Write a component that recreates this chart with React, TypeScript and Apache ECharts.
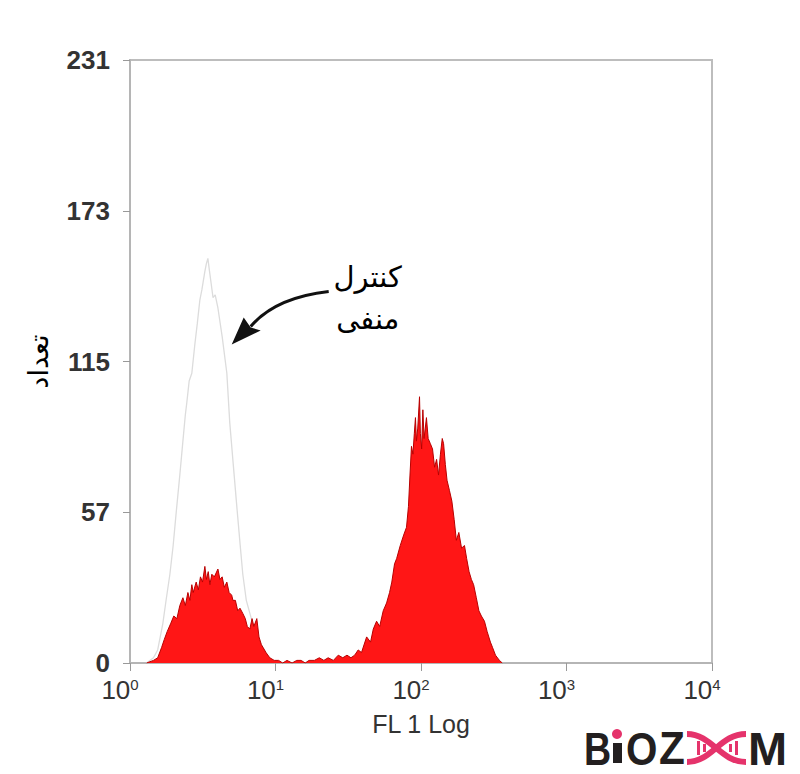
import React, { useEffect, useRef } from "react";
import * as echarts from "echarts";

// FL1 value (log axis) and event count
const RED_HIST: [number, number][] = [
  [1.3, 0], [1.45, 1], [1.55, 2], [1.65, 6], [1.72, 9], [1.8, 12], [1.9, 15], [2.0, 18],
  [2.1, 17], [2.2, 22], [2.31, 25], [2.4, 22], [2.5, 27], [2.58, 24], [2.66, 30], [2.72, 27],
  [2.85, 31], [2.95, 28], [3.05, 33], [3.15, 31], [3.27, 37], [3.35, 32], [3.45, 35], [3.54, 30],
  [3.65, 34], [3.8, 33], [4.02, 36], [4.15, 32], [4.3, 33], [4.45, 29], [4.63, 31], [4.8, 27],
  [5.0, 26], [5.1, 24], [5.3, 24], [5.5, 20], [5.7, 21], [5.96, 19], [6.2, 17], [6.4, 14],
  [6.66, 13], [6.9, 17], [7.1, 14], [7.44, 17], [7.7, 10], [8.0, 7], [8.2, 6], [8.6, 4],
  [9.14, 2], [9.8, 1], [10.5, 1], [11.2, 0], [12, 1], [13, 0], [14, 1], [15, 1], [16, 0],
  [17, 1], [18.5, 1], [20, 2], [21.5, 1], [23, 2], [25, 1], [27, 3], [29, 2], [31, 3], [33, 2],
  [35, 3], [37, 5], [39, 4], [42.3, 10], [45, 8], [47, 13], [49.5, 16], [52, 14], [55, 20],
  [58, 23], [60.8, 27], [63, 31], [65.8, 38], [68, 40], [72, 45], [76, 49], [79.5, 52], [82, 60],
  [84, 72], [86, 83], [88, 80], [90, 88], [91.6, 94], [93, 85], [95, 90], [97.7, 102], [99, 88],
  [101, 82], [103, 97], [105, 86], [107, 90], [109, 94], [112, 86], [116, 84], [120, 82],
  [124, 75], [128, 78], [132, 72], [136, 80], [140, 86], [143, 84], [147, 76], [151, 70],
  [157, 66], [163, 62], [169, 55], [175, 47], [182, 50], [190, 44], [199, 45], [206, 40],
  [214, 35], [222, 32], [230, 30], [240, 25], [250, 20], [260, 18], [273, 16], [285, 12],
  [300, 8], [310, 6], [325, 3], [346, 1], [362, 0],
];

const CONTROL_HIST: [number, number][] = [
  [1.3, 0], [1.45, 2], [1.55, 5], [1.68, 15], [1.78, 25], [1.88, 34], [1.98, 45], [2.08, 58],
  [2.2, 72], [2.31, 85], [2.4, 95], [2.46, 100], [2.55, 108], [2.66, 111], [2.79, 122],
  [2.9, 130], [3.02, 139], [3.12, 143], [3.27, 150], [3.35, 153], [3.43, 155], [3.52, 150],
  [3.62, 145], [3.72, 140], [3.85, 141], [4.02, 136], [4.3, 125], [4.63, 111], [4.85, 92],
  [5.09, 78], [5.42, 60], [5.7, 46], [5.96, 34], [6.3, 24], [6.98, 15], [7.8, 8], [8.6, 4],
  [9.14, 1], [10, 0],
];

const X_MIN = 1;
const X_MAX = 10000;
const Y_MAX = 231;
const Y_INTERVAL = 57.75;

const X_TITLE = "FL 1 Log";
const Y_TITLE = "تعداد";
const NOTE_LINES = ["کنترل", "منفی"];
const NOTE_TIP: [number, number] = [5.0, 122];

export default function App() {
  const ref = useRef<HTMLDivElement>(null);
  useEffect(() => {
    if (!ref.current) return;
    const chart = echarts.init(ref.current, undefined, { renderer: "svg" });
    const option: any = {
      animation: false,
      backgroundColor: "#ffffff",
      grid: {
        left: 130, right: 88, top: 60, bottom: 111,
        show: true, borderColor: "#bdbdbd", borderWidth: 2, backgroundColor: "transparent",
      },
      xAxis: {
        type: "log", logBase: 10, min: X_MIN, max: X_MAX,
        name: X_TITLE, nameLocation: "middle", nameGap: 48,
        nameTextStyle: { fontFamily: "Liberation Sans", fontSize: 25, color: "#333" },
        axisLine: { show: true, lineStyle: { color: "#b5b5b5", width: 2 } },
        axisTick: { show: true, length: 8, lineStyle: { color: "#999", width: 1 } },
        minorTick: { show: false },
        splitLine: { show: false },
        axisLabel: {
          margin: 14,
          padding: [0, 20, 0, 0],
          formatter: (v: number) => "10{s|" + Math.round(Math.log10(v)) + "}",
          fontFamily: "Liberation Sans", fontSize: 26, color: "#333",
          rich: {
            s: { fontFamily: "Liberation Sans", fontSize: 15, color: "#333", verticalAlign: "top", lineHeight: 26 },
          },
        },
      },
      yAxis: {
        type: "value", min: 0, max: Y_MAX, interval: Y_INTERVAL,
        name: Y_TITLE, nameLocation: "middle", nameGap: 78, nameRotate: 90,
        nameTextStyle: { fontFamily: "DejaVu Sans", fontSize: 27, color: "#000" },
        axisLine: { show: true, lineStyle: { color: "#b5b5b5", width: 2 } },
        axisTick: { show: true, length: 7, lineStyle: { color: "#999", width: 1 } },
        splitLine: { show: false },
        axisLabel: {
          margin: 20,
          formatter: (v: number) => String(Math.floor(v)),
          fontFamily: "Liberation Sans", fontWeight: "bold", fontSize: 26, color: "#333",
        },
      },
      series: [
        {
          type: "line", data: CONTROL_HIST, symbol: "none", silent: true,
          lineStyle: { color: "#dcdcdc", width: 1.3 },
          z: 2,
        },
        {
          type: "line", data: RED_HIST, symbol: "none", silent: true,
          lineStyle: { color: "#b80000", width: 1 },
          areaStyle: { color: "#ff1616", opacity: 1 },
          z: 3,
        },
      ],
    };
    chart.setOption(option);

    const tip = chart.convertToPixel({ gridIndex: 0 }, NOTE_TIP) as number[];
    const [tx, ty] = tip;
    const pink = "#e5336b";
    chart.setOption({
      graphic: [
        {
          type: "bezierCurve",
          shape: {
            x1: tx + 97, y1: ty - 53,
            cpx1: tx + 62, cpy1: ty - 49,
            cpx2: tx + 35, cpy2: ty - 37,
            x2: tx + 19, y2: ty - 18,
          },
          style: { stroke: "#111", lineWidth: 3, fill: null },
        },
        {
          type: "polygon",
          shape: { points: [[tx, ty], [tx + 12, ty - 27], [tx + 19, ty - 17], [tx + 29, ty - 14]] },
          style: { fill: "#111" },
        },
        {
          type: "text", x: tx + 136, y: ty - 68,
          style: { text: NOTE_LINES[0], fontFamily: "DejaVu Sans", fontSize: 29, fill: "#000", align: "center", verticalAlign: "middle" },
        },
        {
          type: "text", x: tx + 136, y: ty - 26,
          style: { text: NOTE_LINES[1], fontFamily: "DejaVu Sans", fontSize: 29, fill: "#000", align: "center", verticalAlign: "middle" },
        },
        // logo
        { type: "text", x: 584, y: 748, scaleX: 0.8, style: { text: "B", fontFamily: "Liberation Sans", fontWeight: 900, fontSize: 47, fill: "#231f20", verticalAlign: "middle" } },
        { type: "rect", shape: { x: 613, y: 743, width: 9, height: 20 }, style: { fill: "#231f20" } },
        { type: "circle", shape: { cx: 617, cy: 734, r: 5 }, style: { fill: pink } },
        { type: "text", x: 626, y: 748, scaleX: 0.86, style: { text: "O", fontFamily: "Liberation Sans", fontWeight: 900, fontSize: 47, fill: "#231f20", verticalAlign: "middle" } },
        { type: "text", x: 659, y: 748, scaleX: 0.9, style: { text: "Z", fontFamily: "Liberation Sans", fontWeight: 900, fontSize: 47, fill: "#231f20", verticalAlign: "middle" } },
        {
          type: "bezierCurve",
          shape: { x1: 687, y1: 734, cpx1: 712, cpy1: 734, cpx2: 720, cpy2: 762, x2: 746, y2: 762 },
          style: { stroke: pink, lineWidth: 6, fill: null },
        },
        {
          type: "bezierCurve",
          shape: { x1: 687, y1: 762, cpx1: 712, cpy1: 762, cpx2: 720, cpy2: 734, x2: 746, y2: 734 },
          style: { stroke: pink, lineWidth: 6, fill: null },
        },
        { type: "rect", shape: { x: 697, y: 741, width: 3, height: 14 }, style: { fill: pink } },
        { type: "rect", shape: { x: 703, y: 744, width: 3, height: 8 }, style: { fill: pink } },
        { type: "rect", shape: { x: 729, y: 744, width: 3, height: 8 }, style: { fill: pink } },
        { type: "rect", shape: { x: 735, y: 741, width: 3, height: 14 }, style: { fill: pink } },
        { type: "text", x: 748, y: 748, scaleX: 1.0, style: { text: "M", fontFamily: "Liberation Sans", fontWeight: 900, fontSize: 47, fill: "#231f20", verticalAlign: "middle" } },
      ],
    });

    return () => chart.dispose();
  }, []);
  return (
    <div
      ref={ref}
      style={{ position: "fixed", left: 0, top: 0, width: 800, height: 774, background: "#fff" }}
    />
  );
}
